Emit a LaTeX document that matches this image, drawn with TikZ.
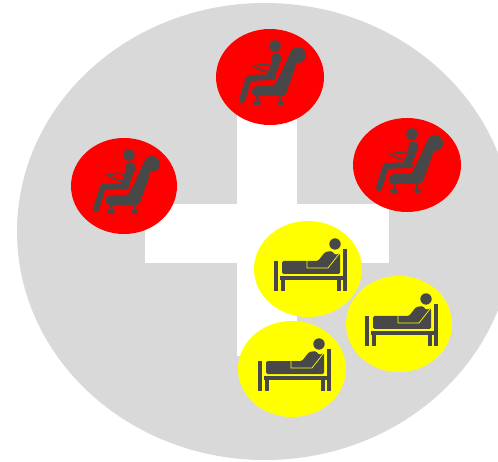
\documentclass[tikz,border=0pt]{standalone}
\usetikzlibrary{shapes.geometric}
\definecolor{icon}{HTML}{484848}
\definecolor{disc}{HTML}{D9D9D9}
\definecolor{pureyellow}{RGB}{255,255,0}
\definecolor{purered}{RGB}{255,0,0}
\tikzset{
  x=1pt,y=-1pt,
  badge/.style={ellipse,inner sep=0pt,minimum width=108pt,minimum height=96pt},
  redbadge/.style={badge,fill=purered},
  yellowbadge/.style={badge,fill=pureyellow},
  ink/.style={draw=icon,line cap=round,line join=round},
  chair/.pic={
    \fill[icon] (5,-31) circle[radius=5.8];
    % torso
    \fill[icon,rounded corners=2.5pt] (2,-23) -- (9,-24) -- (12,-19) -- (5,-1) -- (-4,-2) -- (1,-12) -- cycle;
    % forearm and book
    \draw[ink,line width=1.4pt] (-17,-11) -- (-7,-6) -- (3,-5);
    \draw[ink,line width=1.4pt] (-16,-11) -- (-6,-13) -- (3,-11);
    % thigh and shin
    \draw[ink,line width=6pt,line join=round] (3,0) -- (-21,1) -- (-28,23);
    % backrest with head rest
    \fill[icon] (28,-22) circle[radius=8];
    \fill[icon,rounded corners=3pt] (21,-26) -- (27,-14) -- (18,11) -- (15,19) -- (-17,19) -- (-19,13) -- (-15,9) -- (4,9) -- (10,-2) -- cycle;
    % feet
    \draw[ink,line width=2.4pt] (-13,18) -- (-12,25);
    \draw[ink,line width=2.4pt] (10,18) -- (10,25);
    \draw[ink,line width=3.8pt] (-15,26) -- (-11,26);
    \draw[ink,line width=3.8pt] (9,26) -- (12,26);
  },
  bed/.pic={
    \fill[icon] (27,-25) circle[radius=5.7];
    % posts
    \draw[ink,line width=3.8pt,line cap=butt] (-32,-8) -- (-32,22);
    \draw[ink,line width=3.8pt,line cap=butt] (37,-20) -- (37,22);
    % frame and legs
    \fill[icon] (-28,7) rectangle (35,11);
    \fill[icon] (-27,10) rectangle (-23.5,22);
    \fill[icon] (29,10) rectangle (32.5,22);
    % mattress and sleeper
    \fill[icon,rounded corners=1.5pt] (-26,5) -- (-26,-8) -- (0,-8) -- (10,-8) -- (17,-17) -- (24,-18) -- (27,-14) -- (32,-16) -- (32,5) -- cycle;
    \draw[pureyellow,line width=0.7pt] (-1,-9) -- (-1,-1) -- (20,-1) -- (31,-15);
  }
}
\begin{document}
\begin{tikzpicture}
\useasboundingbox (0,0) rectangle (498,462);
\clip (0,0) rectangle (498,462);
\node[ellipse,inner sep=0pt,fill=disc,minimum width=496pt,minimum height=457pt] (ground) at (265,231.5) {};
\fill[white] (237,110) rectangle (297,356);
\fill[white] (145,204) rectangle (389,263);
\node[redbadge] (r1) at (270,77) {};
\node[redbadge,minimum width=106pt] (r2) at (124,186) {};
\node[redbadge,minimum height=94pt] (r3) at (407,165) {};
\node[yellowbadge] (y1) at (308,269) {};
\node[yellowbadge,minimum width=106pt] (y2) at (399,324) {};
\node[yellowbadge] (y3) at (292,369) {};
\pic at (r1) {chair};
\pic at (r2) {chair};
\pic at (r3) {chair};
\pic at (y1) {bed};
\pic at (y2) {bed};
\pic at (y3) {bed};
\end{tikzpicture}
\end{document}
